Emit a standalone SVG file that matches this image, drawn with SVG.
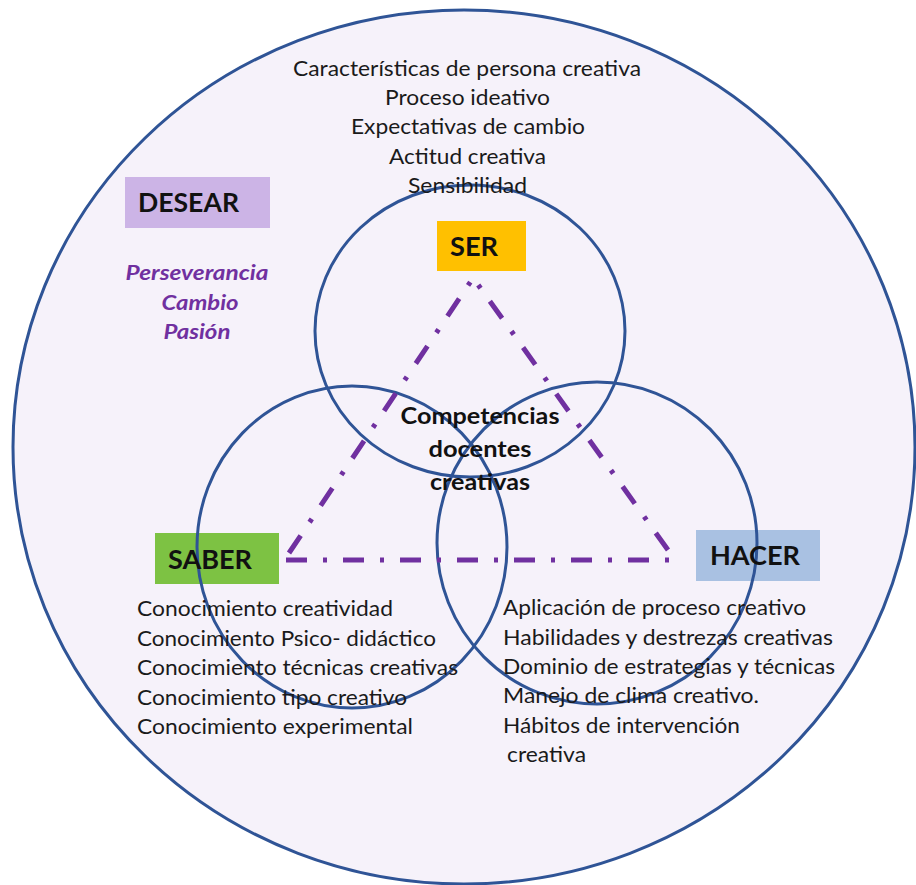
<svg xmlns="http://www.w3.org/2000/svg" width="916" height="885" viewBox="0 0 916 885">
<style>
.ring{fill:none;stroke:#2F5496;stroke-width:3}
.tri{fill:none;stroke:#7030A0;stroke-width:5;stroke-dasharray:21 16 4 16;stroke-linecap:butt}
.lbl{font-family:Lato,"Liberation Sans",sans-serif;font-weight:bold;font-size:26px;fill:#111}
.txt{font-family:Lato,"Liberation Sans",sans-serif;font-size:21px;fill:#1a1a1a}
.ctr{font-family:Lato,"Liberation Sans",sans-serif;font-weight:bold;font-size:22px;fill:#111;text-anchor:middle}
.val{font-family:Lato,"Liberation Sans",sans-serif;font-weight:bold;font-style:italic;font-size:20px;fill:#7030A0;text-anchor:middle}
</style>
<rect width="916" height="885" fill="#ffffff"/>
<g id="desear-circle">
<ellipse cx="464" cy="447" rx="451" ry="437" fill="#F6F2FA" stroke="#2F5496" stroke-width="3"/>
</g>
<g id="boxes">
<rect id="desear-box" x="125" y="177" width="145" height="51" fill="#CCB4E6"/>
<rect id="ser-box" x="437" y="221" width="89" height="50" fill="#FFC000"/>
<rect id="saber-box" x="155" y="533" width="124" height="51" fill="#7DC243"/>
<rect id="hacer-box" x="696" y="530" width="124" height="51" fill="#A9C1E2"/>
</g>
<g id="circles">
<ellipse id="ser-circle" class="ring" cx="470" cy="331" rx="155" ry="146"/>
<ellipse id="saber-circle" class="ring" cx="352" cy="547" rx="155" ry="161"/>
<ellipse id="hacer-circle" class="ring" cx="597" cy="543" rx="160" ry="161"/>
</g>
<g id="connectors">
<line class="tri" x1="289" y1="553" x2="473" y2="278"/>
<line class="tri" x1="668" y1="550" x2="474" y2="279"/>
<line class="tri" x1="286" y1="560" x2="676" y2="560"/>
</g>
<g id="ser-texts">
<text class="txt" x="293" y="76" textLength="348" lengthAdjust="spacingAndGlyphs">Características de persona creativa</text>
<text class="txt" x="385" y="105" textLength="165" lengthAdjust="spacingAndGlyphs">Proceso ideativo</text>
<text class="txt" x="351" y="134" textLength="234" lengthAdjust="spacingAndGlyphs">Expectativas de cambio</text>
<text class="txt" x="389" y="164" textLength="157" lengthAdjust="spacingAndGlyphs">Actitud creativa</text>
<text class="txt" x="408" y="193" textLength="119" lengthAdjust="spacingAndGlyphs">Sensibilidad</text>
</g>
<g id="desear">
<text class="lbl" x="138" y="212" textLength="101" lengthAdjust="spacingAndGlyphs">DESEAR</text>
<text class="val" x="197" y="280" textLength="143" lengthAdjust="spacingAndGlyphs">Perseverancia</text>
<text class="val" x="200" y="310" textLength="77" lengthAdjust="spacingAndGlyphs">Cambio</text>
<text class="val" x="197" y="339" textLength="67" lengthAdjust="spacingAndGlyphs">Pasión</text>
</g>
<g id="ser">
<text class="lbl" x="450" y="256" textLength="48" lengthAdjust="spacingAndGlyphs">SER</text>
</g>
<g id="saber">
<text class="lbl" x="168" y="569" textLength="84" lengthAdjust="spacingAndGlyphs">SABER</text>
</g>
<g id="hacer">
<text class="lbl" x="710" y="565" textLength="90" lengthAdjust="spacingAndGlyphs">HACER</text>
</g>
<g id="center">
<text class="ctr" x="480" y="424" textLength="159" lengthAdjust="spacingAndGlyphs">Competencias</text>
<text class="ctr" x="480" y="457" textLength="103" lengthAdjust="spacingAndGlyphs">docentes</text>
<text class="ctr" x="480" y="490" textLength="100" lengthAdjust="spacingAndGlyphs">creativas</text>
</g>
<g id="saber-texts">
<text class="txt" x="137" y="616" textLength="256" lengthAdjust="spacingAndGlyphs">Conocimiento creatividad</text>
<text class="txt" x="137" y="646" textLength="299" lengthAdjust="spacingAndGlyphs">Conocimiento Psico- didáctico</text>
<text class="txt" x="137" y="675" textLength="321" lengthAdjust="spacingAndGlyphs">Conocimiento técnicas creativas</text>
<text class="txt" x="137" y="705" textLength="270" lengthAdjust="spacingAndGlyphs">Conocimiento tipo creativo</text>
<text class="txt" x="137" y="734" textLength="276" lengthAdjust="spacingAndGlyphs">Conocimiento experimental</text>
</g>
<g id="hacer-texts">
<text class="txt" x="503" y="615" textLength="303" lengthAdjust="spacingAndGlyphs">Aplicación de proceso creativo</text>
<text class="txt" x="503" y="645" textLength="330" lengthAdjust="spacingAndGlyphs">Habilidades y destrezas creativas</text>
<text class="txt" x="503" y="674" textLength="332" lengthAdjust="spacingAndGlyphs">Dominio de estrategias y técnicas</text>
<text class="txt" x="503" y="703" textLength="256" lengthAdjust="spacingAndGlyphs">Manejo de clima creativo.</text>
<text class="txt" x="503" y="733" textLength="237" lengthAdjust="spacingAndGlyphs">Hábitos de intervención</text>
<text class="txt" x="507" y="762" textLength="79" lengthAdjust="spacingAndGlyphs">creativa</text>
</g>
</svg>
